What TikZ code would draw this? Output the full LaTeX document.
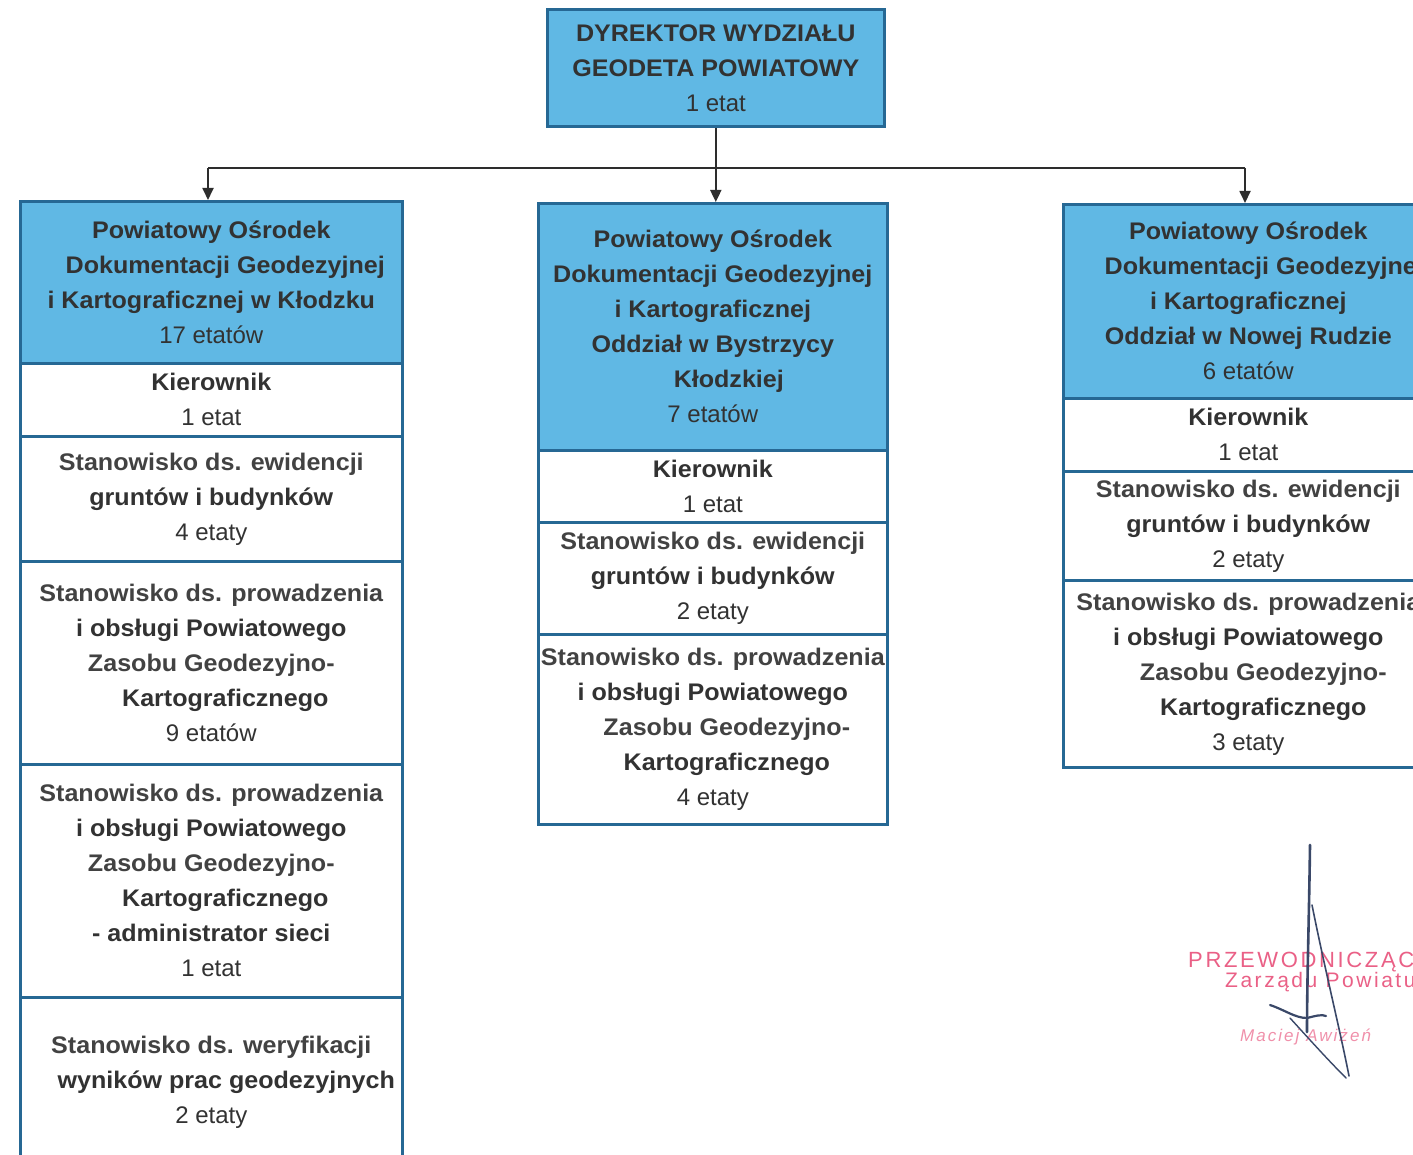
\documentclass[tikz,border=0pt]{standalone}
\usepackage{fontspec}
\setmainfont{Liberation Sans}[BoldFeatures={FakeStretch=1.045}]
\newfontfamily\stampfont{Liberation Sans}[LetterSpace=12]
\usetikzlibrary{arrows.meta}
\definecolor{hdrblue}{RGB}{96,184,228}
\definecolor{bordblue}{RGB}{38,104,148}
\definecolor{txt}{RGB}{50,50,50}
\definecolor{txtlight}{RGB}{66,66,66}
\definecolor{conncol}{RGB}{45,45,45}
\definecolor{stampcol}{RGB}{234,96,134}
\definecolor{signcol}{RGB}{58,72,104}
\newcommand\myW[1]{{\color{txtlight}#1}}
\newcommand\myN[1]{{\mdseries #1}}
\begin{document}
\begin{tikzpicture}[x=1pt,y=-1pt,
  box/.style={draw=bordblue, line width=2.6pt, anchor=north west, align=center,
    inner sep=0pt, text=txt, font=\fontsize{24}{35}\selectfont\bfseries},
  hdr/.style={box, fill=hdrblue},
  cell/.style={box, fill=white},
  conn/.style={draw=conncol, line width=1.8pt},
  arr/.style={conn, -{Triangle[length=12pt,width=11pt]}},
  stampt/.style={text=stampcol, inner sep=0pt},
  sig/.style={draw=signcol, line cap=round, line join=round}]
\useasboundingbox (0,0) rectangle (1413,1155);
\clip (0,0) rectangle (1413,1155);
\fill[white] (0,0) rectangle (1413,1155);

% top
\node[hdr, minimum width=337pt, minimum height=117pt] (top) at (546,8)
  {DYREKTOR WYDZIAŁU\\GEODETA POWIATOWY\\\myN{1 etat}};

% left column
\node[hdr, minimum width=382pt, minimum height=162pt] (lh) at (19,200)
  {Powiatowy Ośrodek\\\hspace*{28pt}Dokumentacji Geodezyjnej\\i Kartograficznej w Kłodzku\\\myN{17 etatów}};
\node[cell, minimum width=382pt, minimum height=73pt] (lk) at (19,362)
  {Kierownik\\\myN{1 etat}};
\node[cell, minimum width=382pt, minimum height=125pt] (le) at (19,435)
  {\myW{Stanowisko ds. ewidencji}\\gruntów i budynków\\\myN{4 etaty}};
\node[cell, minimum width=382pt, minimum height=203pt] (lp) at (19,560)
  {\myW{Stanowisko ds. prowadzenia}\\i obsługi Powiatowego\\\myW{Zasobu Geodezyjno-}\\\hspace*{28pt}Kartograficznego\\\myN{9 etatów}};
\node[cell, minimum width=382pt, minimum height=233pt] (la) at (19,763)
  {\myW{Stanowisko ds. prowadzenia}\\i obsługi Powiatowego\\\myW{Zasobu Geodezyjno-}\\\hspace*{28pt}Kartograficznego\\- administrator sieci\\\myN{1 etat}};
\node[cell, minimum width=382pt, minimum height=170pt] (lw) at (19,996)
  {\myW{Stanowisko ds. weryfikacji}\\\hspace*{30pt}wyników prac geodezyjnych\\\myN{2 etaty}};

% middle column
\node[hdr, minimum width=349pt, minimum height=247pt] (mh) at (537,202)
  {Powiatowy Ośrodek\\Dokumentacji Geodezyjnej\\i Kartograficznej\\Oddział w Bystrzycy\\\hspace*{32pt}Kłodzkiej\\\myN{7 etatów}};
\node[cell, minimum width=349pt, minimum height=72pt] (mk) at (537,449)
  {Kierownik\\\myN{1 etat}};
\node[cell, minimum width=349pt, minimum height=112pt] (me) at (537,521)
  {\myW{Stanowisko ds. ewidencji}\\gruntów i budynków\\\myN{2 etaty}};
\node[cell, minimum width=349pt, minimum height=190pt] (mp) at (537,633)
  {\myW{Stanowisko ds. prowadzenia}\\i obsługi Powiatowego\\\hspace*{28pt}\myW{Zasobu Geodezyjno-}\\\hspace*{28pt}Kartograficznego\\\myN{4 etaty}};

% right column
\node[hdr, minimum width=370pt, minimum height=194pt] (rh) at (1062,203)
  {Powiatowy Ośrodek\\\hspace*{32pt}Dokumentacji Geodezyjnej\\i Kartograficznej\\Oddział w Nowej Rudzie\\\myN{6 etatów}};
\node[cell, minimum width=370pt, minimum height=73pt] (rk) at (1062,397)
  {Kierownik\\\myN{1 etat}};
\node[cell, minimum width=370pt, minimum height=109pt] (re) at (1062,470)
  {\myW{Stanowisko ds. ewidencji}\\gruntów i budynków\\\myN{2 etaty}};
\node[cell, minimum width=370pt, minimum height=187pt] (rp) at (1062,579)
  {\myW{Stanowisko ds. prowadzenia}\\i obsługi Powiatowego\\\hspace*{30pt}\myW{Zasobu Geodezyjno-}\\\hspace*{30pt}Kartograficznego\\\myN{3 etaty}};

% connectors
\coordinate (jL) at (208,168);
\coordinate (jR) at (1245,168);
\draw[conn] (jL) -- (jR);
\draw[arr] (top.south) -- (top.south |- mh.north);
\draw[arr] (jL) -- (jL |- lh.north);
\draw[arr] (jR) -- (jR |- rh.north);

% stamp
\node[stampt, anchor=west, font=\stampfont\fontsize{22}{24}\selectfont] (s1) at (1188,962) {PRZEWODNICZĄCY};
\node[stampt, anchor=west, font=\stampfont\fontsize{21}{24}\selectfont] (s2) at (1225,982) {Zarządu Powiatu};
\node[stampt, anchor=west, text=stampcol!70, font=\stampfont\itshape\fontsize{17}{20}\selectfont] (s3) at (1240,1037) {Maciej Awiżeń};

% signature
\draw[sig, line width=2.6pt] (1310,845) .. controls (1309,920) and (1307,980) .. (1307,1032);
\draw[sig, line width=1.6pt] (1312,905) .. controls (1325,970) and (1340,1030) .. (1349,1076);
\draw[sig, line width=2.2pt] (1270,1005) .. controls (1285,1010) and (1295,1018) .. (1307,1018)
  .. controls (1315,1016) and (1322,1014) .. (1326,1016);
\draw[sig, line width=1.4pt] (1290,1018) .. controls (1310,1040) and (1328,1060) .. (1346,1078);
\end{tikzpicture}
\end{document}
